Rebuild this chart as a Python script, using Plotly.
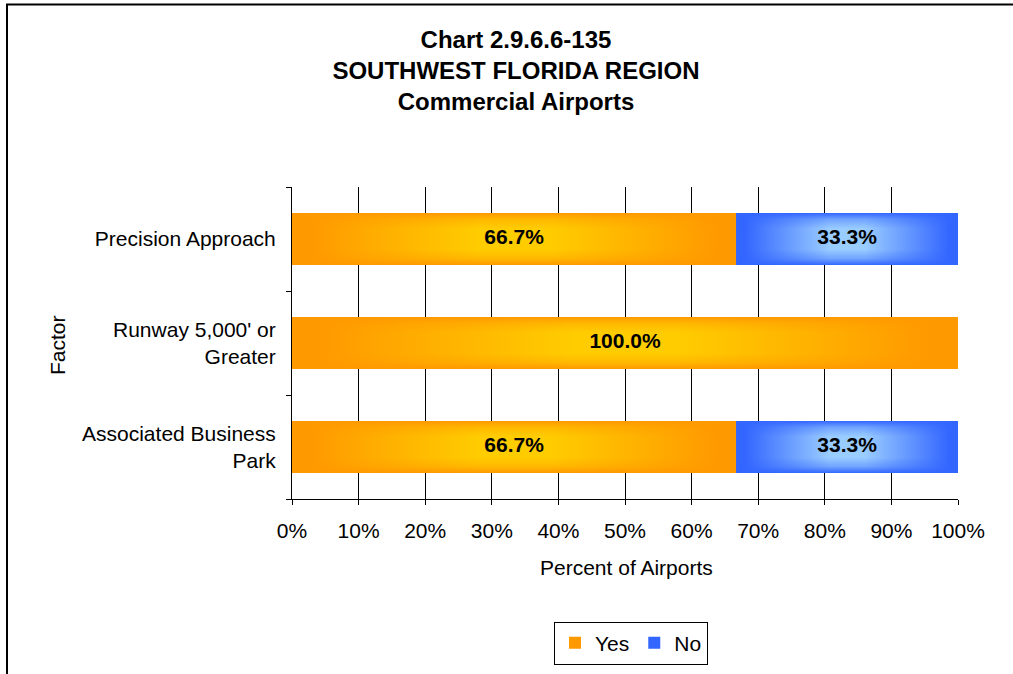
import plotly.graph_objects as go

# ---- data ----
categories = ["Associated Business<br>Park", "Runway 5,000' or<br>Greater", "Precision Approach"]
yes_values = [66.7, 100.0, 66.7]
no_values = [33.3, 0.0, 33.3]
x_ticks = [0, 10, 20, 30, 40, 50, 60, 70, 80, 90, 100]
x_tick_labels = [f"{v}%" for v in x_ticks]
title_lines = ["Chart 2.9.6.6-135", "SOUTHWEST FLORIDA REGION", "Commercial Airports"]

FONT = "Liberation Sans, Arial, sans-serif"
ORANGE, YELLOW = "#FF9900", "#FFCC00"
BLUE, LBLUE = "#3366FF", "#99CCFF"
BAR_W = 0.5
FS = 21
ypos = list(range(len(categories)))

W, H = 1013, 674
PL, PR, PT, PB = 292, 958, 187, 499
pw, ph = PR - PL, PB - PT


def px(xx):
    return (xx - PL) / pw


def py(yy):
    return (PB - yy) / ph


fig = go.Figure()
fig.add_trace(go.Bar(name="Yes", y=ypos, x=yes_values, orientation="h", width=BAR_W,
                     marker=dict(color=ORANGE, line=dict(width=0))))
fig.add_trace(go.Bar(name="No", y=ypos, x=no_values, orientation="h", width=BAR_W,
                     marker=dict(color=BLUE, line=dict(width=0))))


def grad_rect(x0, x1, yc, edge, center, edge_rgba):
    if x1 - x0 <= 0:
        return
    xs = [x0, x1, x1, x0, x0]
    ys = [yc - BAR_W / 2, yc - BAR_W / 2, yc + BAR_W / 2, yc + BAR_W / 2, yc - BAR_W / 2]
    fig.add_trace(go.Scatter(x=xs, y=ys, mode="lines", fill="toself", line=dict(width=0),
                             fillgradient=dict(type="horizontal",
                                               colorscale=[[0, edge], [0.04, edge], [0.42, center],
                                                           [0.58, center], [0.96, edge], [1, edge]]),
                             showlegend=False, hoverinfo="skip"))
    fig.add_trace(go.Scatter(x=xs, y=ys, mode="lines", fill="toself", line=dict(width=0),
                             fillgradient=dict(type="vertical",
                                               colorscale=[[0, edge_rgba + "1)"], [0.12, edge_rgba + "0.4)"],
                                                           [0.3, edge_rgba + "0)"], [0.7, edge_rgba + "0)"],
                                                           [0.88, edge_rgba + "0.4)"], [1, edge_rgba + "1)"]]),
                             showlegend=False, hoverinfo="skip"))


tx, ty, tt = [], [], []
for i, (yv, nv) in enumerate(zip(yes_values, no_values)):
    grad_rect(0, yv, i, ORANGE, YELLOW, "rgba(255,153,0,")
    grad_rect(yv, yv + nv, i, BLUE, LBLUE, "rgba(51,102,255,")
    if yv > 0:
        tx.append(yv / 2); ty.append(i); tt.append(f"{yv:.1f}%")
    if nv > 0:
        tx.append(yv + nv / 2); ty.append(i); tt.append(f"{nv:.1f}%")

fig.add_trace(go.Scatter(x=tx, y=ty, text=tt, mode="text", showlegend=False, hoverinfo="skip",
                         textfont=dict(family=FONT, size=FS, color="black", weight="bold")))

fig.update_layout(
    width=W, height=H,
    margin=dict(l=PL, r=W - PR, t=PT, b=H - PB, autoexpand=False),
    paper_bgcolor="white", plot_bgcolor="white",
    barmode="stack",
    font=dict(family=FONT, size=FS, color="black"),
    title=dict(text="<b>" + "<br>".join(title_lines) + "</b>", x=516 / W, xanchor="center",
               y=1 - 48 / H, yanchor="top", font=dict(size=24, family=FONT)),
    showlegend=True,
    legend=dict(orientation="h", x=px(631), xanchor="center", y=py(643), yanchor="middle",
                bordercolor="black", borderwidth=1, font=dict(size=FS),
                itemwidth=30, traceorder="normal"),
    xaxis=dict(range=[0, 100], tickvals=x_ticks, ticktext=x_tick_labels, showgrid=True,
               gridcolor="black", gridwidth=1, showline=True, linecolor="black", linewidth=1,
               ticks="outside", ticklen=5, tickcolor="black", zeroline=False,
               ticklabelstandoff=8, tickfont=dict(size=FS)),
    yaxis=dict(range=[-0.5, 2.5], tickvals=ypos, ticktext=categories, ticks="",
               showline=True, linecolor="black", linewidth=1, showgrid=False, zeroline=False,
               ticklabelstandoff=11, tickfont=dict(size=FS),
               minor=dict(tickmode="array", tickvals=[-0.5, 0.5, 1.5, 2.5], ticks="outside",
                          ticklen=5, tickcolor="black", showgrid=False)),
    annotations=[
        dict(text="Factor", xref="paper", yref="paper", x=px(57), y=py(345),
             xanchor="center", yanchor="middle",
             textangle=-90, showarrow=False, font=dict(size=FS)),
        dict(text="Percent of Airports", xref="paper", yref="paper", x=px(626), y=py(567),
             xanchor="center", yanchor="middle", showarrow=False, font=dict(size=FS)),
    ],
    shapes=[dict(type="rect", xref="paper", yref="paper",
                 x0=px(7), x1=px(1040), y0=py(700), y1=py(4.5),
                 line=dict(color="black", width=2), fillcolor="rgba(0,0,0,0)", layer="above")],
)

fig.write_html("out.html", config={"displayModeBar": False},
               post_script="document.body.style.margin='0px';")
